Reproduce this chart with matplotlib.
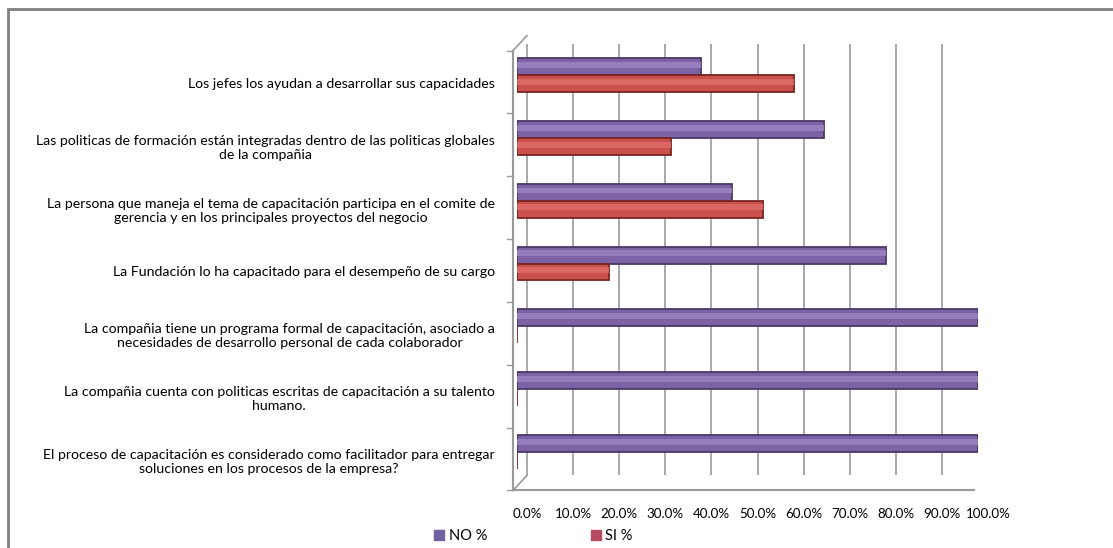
import numpy as np
import matplotlib
matplotlib.use("Agg")
import matplotlib.pyplot as plt
import matplotlib.transforms as mtransforms
from matplotlib.patches import Rectangle

# questions, top to bottom
categories = [
    "Los jefes los ayudan a desarrollar sus capacidades",
    "Las politicas de formación están integradas dentro de las politicas globales\nde la compañia",
    "La persona que maneja el tema de capacitación participa en el comite de\ngerencia y en los principales proyectos del negocio",
    "La Fundación lo ha capacitado para el desempeño de su cargo",
    "La compañia tiene un programa formal de capacitación, asociado a\nnecesidades de desarrollo personal de cada colaborador",
    "La compañia cuenta con politicas escritas de capacitación a su talento\nhumano.",
    "El proceso de capacitación es considerado como facilitador para entregar\nsoluciones en los procesos de la empresa?",
]
no_pct = [40.0, 66.7, 46.7, 80.0, 100.0, 100.0, 100.0]
si_pct = [60.0, 33.3, 53.3, 20.0, 0.0, 0.0, 0.0]
xticks = [0, 10, 20, 30, 40, 50, 60, 70, 80, 90, 100]
series_names = ["NO %", "SI %"]

plt.rcParams['font.family'] = ['Lato', 'DejaVu Sans']

fig = plt.figure(figsize=(11.13, 5.48), dpi=100)
fig.patch.set_facecolor("white")
ax = fig.add_axes([517 / 1113, 1 - 483.4 / 548, 461 / 1113, 439.8 / 548])
ax.set_facecolor("none")

# offsets for the fake 3d depth
back = mtransforms.ScaledTranslation(10 / 100, 8 / 100, fig.dpi_scale_trans)
front = mtransforms.ScaledTranslation(-4 / 100, -7 / 100, fig.dpi_scale_trans)
gridc = "#9a9a9a"

y = np.arange(len(categories))
h = 0.27

# back wall grid lines
ax.vlines(xticks, 0, 1, transform=ax.get_xaxis_transform() + back,
          color=gridc, lw=1.2, zorder=0)
# floor front line and diagonals
ax.plot([0, 100], [0, 0], transform=ax.get_xaxis_transform() + front,
        color=gridc, lw=1.5, zorder=0, clip_on=False)
for xv in xticks:
    p0 = (ax.get_xaxis_transform() + front).transform((xv, 0))
    p1 = (ax.get_xaxis_transform() + back).transform((xv, 0))
    fig.add_artist(plt.Line2D([p0[0], p1[0]], [p0[1], p1[1]], color=gridc, lw=1.2,
                              transform=None))
# left wall
ax.plot([0, 0], [0, 1], transform=ax.get_xaxis_transform() + front,
        color=gridc, lw=1.5, zorder=0, clip_on=False)
p0 = (ax.get_xaxis_transform() + front).transform((0, 1))
p1 = (ax.get_xaxis_transform() + back).transform((0, 1))
fig.add_artist(plt.Line2D([p0[0], p1[0]], [p0[1], p1[1]], color=gridc, lw=1.2,
                          transform=None))
# wall ticks at category boundaries
for b in np.arange(-0.5, len(categories), 1.0):
    ax.plot([-1.2, 0], [b, b], transform=ax.transData + front, color=gridc,
            lw=1.0, clip_on=False)

# bars (cylinder look: base colour, soft highlight)
ax.barh(y - h / 2, no_pct, height=h, color="#7d62a6", edgecolor="#4a3868",
        lw=1.3, zorder=3, label=series_names[0])
ax.barh(y - h / 2 - h * 0.1, no_pct, height=h * 0.35, color="#9c86c2",
        lw=0, zorder=4, alpha=0.8)
ax.barh(y + h / 2, si_pct, height=h, color="#c9504b", edgecolor="#7a2522",
        lw=1.3, zorder=3, label=series_names[1])
ax.barh(y + h / 2 - h * 0.1, si_pct, height=h * 0.35, color="#df6e69",
        lw=0, zorder=4, alpha=0.8)

ax.set_xlim(0, 100)
ax.set_ylim(len(categories) - 0.5, -0.5)
ax.set_yticks(y)
ax.set_yticklabels(categories, fontsize=10.2, multialignment="center")
ax.set_xticks(xticks)
ax.set_xticklabels(["{:.1f}%".format(v) for v in xticks], fontsize=9.6)
ax.tick_params(axis="y", length=0, pad=16)
ax.tick_params(axis="x", length=0, pad=18)
for lab in ax.get_xticklabels():
    lab.set_transform(lab.get_transform() + mtransforms.ScaledTranslation(10 / 100, 0, fig.dpi_scale_trans))
for lab in ax.get_yticklabels():
    lab.set_transform(lab.get_transform() + mtransforms.ScaledTranslation(0, -8 / 100, fig.dpi_scale_trans))
for s in ax.spines.values():
    s.set_visible(False)

# legend below the plot
handles = [Rectangle((0, 0), 1, 1, color="#7261a0"), Rectangle((0, 0), 1, 1, color="#b64a5e")]
fig.legend(handles, series_names, loc="center", bbox_to_anchor=(533.5 / 1113, 12 / 548),
           ncol=2, frameon=False, fontsize=10.5, handlelength=0.7, handleheight=0.7,
           handletextpad=0.3, columnspacing=7.1)

# outer chart border
fig.add_artist(Rectangle((8 / 1113, -0.05), 1.2, 1.05 - 9 / 548, transform=fig.transFigure,
                         fill=False, edgecolor="#7f7f7f", lw=2))

fig.savefig("out.png", dpi=100)
